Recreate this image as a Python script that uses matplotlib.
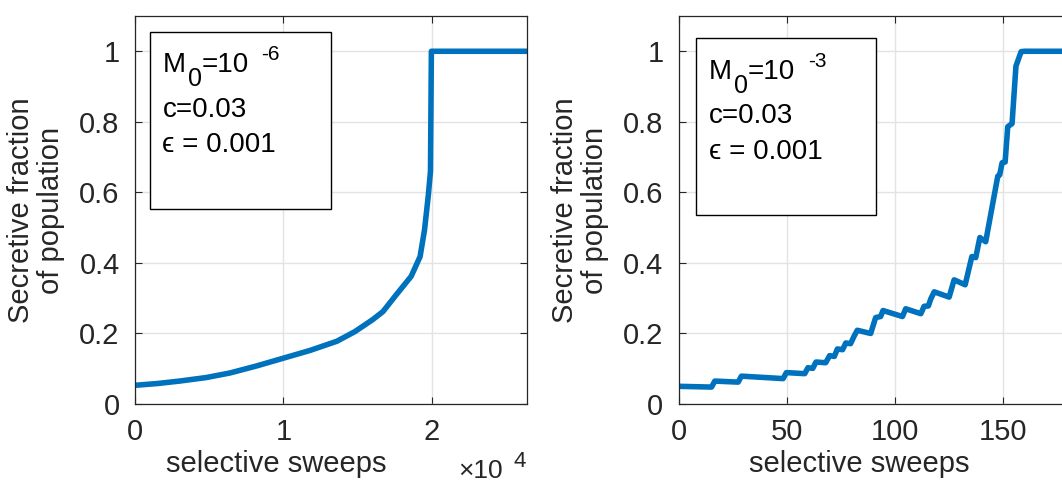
import matplotlib
matplotlib.use("Agg")
import matplotlib.pyplot as plt
from matplotlib.patches import Rectangle
from matplotlib.text import Annotation

plt.rcParams['font.family'] = ['Liberation Sans', 'DejaVu Sans']

# Left panel data (M0 = 1e-6)
left_x = [0, 1500, 3000, 4800, 6400, 8200, 10000, 11800, 13600, 14800, 16000, 16700,
          17600, 18600, 19200, 19500, 19750, 19900, 19960, 26400]
left_y = [0.053, 0.058, 0.065, 0.075, 0.088, 0.108, 0.130, 0.152, 0.178, 0.205, 0.239,
          0.262, 0.310, 0.362, 0.418, 0.494, 0.590, 0.660, 1.0, 1.0]

# Right panel data (M0 = 1e-3)
right_x = [1, 15.2, 16.7, 27.5, 29, 48.3, 49.8, 58.3, 59.8, 62, 63.5, 68, 69.8, 72, 73.4,
           75.8, 77.3, 79.5, 81.1, 82.6, 88.8, 91.1, 93.4, 94.5, 103.5, 105, 112, 113.5,
           115.5, 116.6, 118.2, 125.1, 127.4, 132.5, 135.6, 137.4, 139.3, 142, 147.6,
           148.5, 149.6, 151, 152.2, 154.2, 156, 158.4, 160, 181]
right_y = [0.050, 0.048, 0.065, 0.062, 0.079, 0.072, 0.089, 0.086, 0.103, 0.101, 0.119,
           0.117, 0.137, 0.135, 0.156, 0.154, 0.173, 0.171, 0.192, 0.209, 0.200, 0.245,
           0.248, 0.265, 0.248, 0.270, 0.256, 0.277, 0.278, 0.298, 0.318, 0.303, 0.352,
           0.338, 0.418, 0.415, 0.472, 0.460, 0.646, 0.650, 0.684, 0.686, 0.786, 0.795,
           0.958, 0.999, 1.0, 1.0]

y_ticks = [0, 0.2, 0.4, 0.6, 0.8, 1]
y_ticklabels = ["0", "0.2", "0.4", "0.6", "0.8", "1"]
left_xticks = [0, 10000, 20000]
left_xticklabels = ["0", "1", "2"]
right_xticks = [0, 50, 100, 150]
right_xticklabels = ["0", "50", "100", "150"]

m0_parts = ["M", "0", "=10"]
left_exp = "-6"
right_exp = "-3"
other_lines = ["c=0.03", "\u03f5 = 0.001"]

W, H = 1062, 482
fig = plt.figure(figsize=(W / 100, H / 100), dpi=100)

blue = '#0072BD'
txtc = '#262626'
fs = 21
bfs = 20


def px_axes(x0, x1, y0, y1):
    return fig.add_axes([x0 / W, 1 - y1 / H, (x1 - x0) / W, (y1 - y0) / H])


def style(ax):
    ax.set_ylim(0, 1.1)
    ax.set_yticks(y_ticks)
    ax.set_yticklabels(y_ticklabels)
    ax.grid(True, color='#e3e3e3', linewidth=1.0)
    ax.set_axisbelow(True)
    ax.tick_params(direction='in', top=True, right=True, length=5, width=0.8,
                   labelsize=fs, colors='#262626', labelcolor=txtc)
    ax.tick_params(axis='y', pad=11)
    ax.tick_params(axis='x', pad=10)
    for s in ax.spines.values():
        s.set_color('#262626')
        s.set_linewidth(0.9)
    ax.set_ylabel("Secretive fraction\nof population", fontsize=fs, color=txtc,
                  linespacing=1.12, labelpad=10)
    ax.set_xlabel("selective sweeps", fontsize=fs, color=txtc)


def textbox(x0, x1, y0, y1, m_base, exp, exp_x, exp_base, line_ys):
    fig.patches.append(Rectangle((x0 / W, 1 - y1 / H), (x1 - x0) / W, (y1 - y0) / H,
                                 transform=fig.transFigure, facecolor='white',
                                 edgecolor='black', linewidth=1.0, zorder=5))
    tx = x0 + 13
    tM = fig.text(tx / W, 1 - m_base / H, m0_parts[0], fontsize=bfs, color='black',
                  va='baseline', ha='left', zorder=6)
    a0 = fig.add_artist(Annotation(
        m0_parts[1], xy=(1, H - (m_base + 14)), xycoords=(tM, 'figure pixels'),
        xytext=(1.5, 0), textcoords='offset points', fontsize=18, color='black',
        va='baseline', ha='left', zorder=6))
    fig.add_artist(Annotation(
        m0_parts[2], xy=(1, H - m_base), xycoords=(a0, 'figure pixels'),
        xytext=(0, 0), textcoords='offset points', fontsize=bfs, color='black',
        va='baseline', ha='left', zorder=6))
    fig.text(exp_x / W, 1 - exp_base / H, exp, fontsize=15, color='black',
             va='baseline', ha='left', zorder=6)
    for t, yy in zip(other_lines, line_ys):
        fig.text(tx / W, 1 - yy / H, t, fontsize=bfs, color='black',
                 va='center', ha='left', zorder=6)


ax1 = px_axes(135, 527, 16, 404)
ax1.plot(left_x, left_y, color=blue, linewidth=4, solid_joinstyle='round')
ax1.set_xlim(0, 26400)
ax1.set_xticks(left_xticks)
ax1.set_xticklabels(left_xticklabels)
style(ax1)
ax1.xaxis.set_label_coords((276 - 135) / 392, (404 - 450) / 388)
fig.text(458 / W, 1 - 478 / H, "\u00d710", fontsize=19, color=txtc, ha='left', va='baseline')
fig.text(513 / W, 1 - 467 / H, "4", fontsize=16, color=txtc, ha='left', va='baseline')

ax2 = px_axes(678.7, 1070, 16, 404)
ax2.plot(right_x, right_y, color=blue, linewidth=4, solid_joinstyle='round')
ax2.set_xlim(0, 181)
ax2.set_xticks(right_xticks)
ax2.set_xticklabels(right_xticklabels)
style(ax2)
ax2.xaxis.set_label_coords((859 - 678.7) / 391.3, (404 - 450) / 388)

textbox(149.5, 330.5, 31.5, 209, 72, left_exp, 261, 60, [110, 145])
textbox(695.7, 876.3, 38, 215, 79, right_exp, 808, 67, [116, 152])

fig.savefig("out.png", dpi=100)
